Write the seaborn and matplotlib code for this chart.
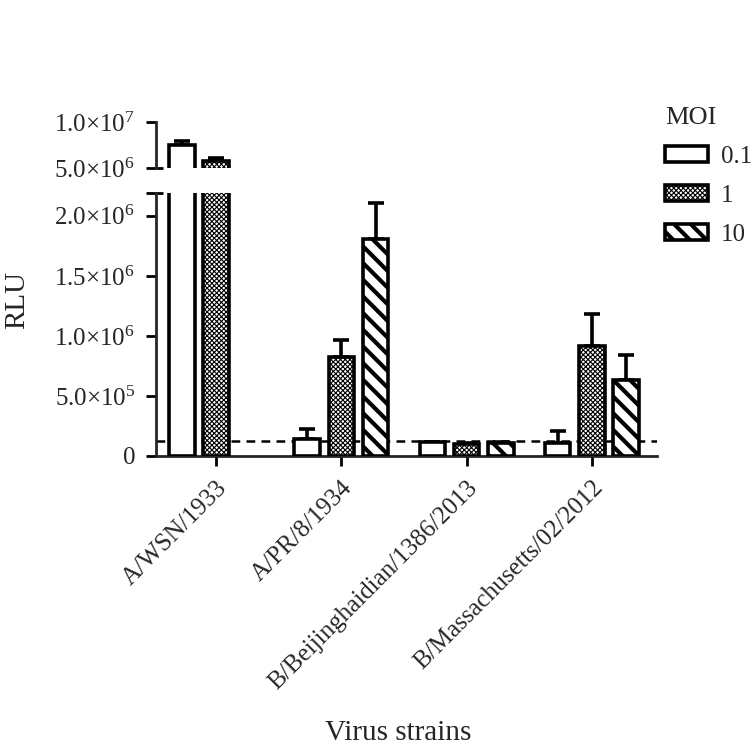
import numpy as np
import pandas as pd
import matplotlib
matplotlib.use("Agg")
import matplotlib.pyplot as plt
import seaborn as sns
from matplotlib.patches import Patch

# ---------------- data ----------------
strains = ["A/WSN/1933", "A/PR/8/1934", "B/Beijinghaidian/1386/2013", "B/Massachusetts/02/2012"]
moi_levels = ["0.1", "1", "10"]
rlu_moi_01 = [7.5e6, 1.4e5, 1.15e5, 1.1e5]
rlu_moi_1 = [5.75e6, 8.25e5, 1.0e5, 9.2e5]
rlu_moi_10 = [np.nan, 1.81e6, 1.05e5, 6.3e5]
err_moi_01 = [0.4e6, 0.85e5, 0.05e5, 1.0e5]
err_moi_1 = [0.35e6, 1.45e5, 0.1e5, 2.6e5]
err_moi_10 = [np.nan, 3.0e5, 0.1e5, 2.1e5]
threshold = 1.25e5
lower_ticks = [0, 5e5, 1e6, 1.5e6, 2e6]
lower_ticklabels = ["0", "5.0×10$^{5}$", "1.0×10$^{6}$", "1.5×10$^{6}$", "2.0×10$^{6}$"]
upper_ticks = [5e6, 1e7]
upper_ticklabels = ["5.0×10$^{6}$", "1.0×10$^{7}$"]

values = {"0.1": rlu_moi_01, "1": rlu_moi_1, "10": rlu_moi_10}
errors = {"0.1": err_moi_01, "1": err_moi_1, "10": err_moi_10}
rows = []
for m in moi_levels:
    for s, v, e in zip(strains, values[m], errors[m]):
        rows.append({"strain": s, "MOI": m, "RLU": v, "err": e})
df = pd.DataFrame(rows)
df_plot = df.dropna(subset=["RLU"])

# ---------------- style ----------------
sns.set_theme(style="ticks")
plt.rcParams["font.family"] = ["Liberation Serif", "DejaVu Serif"]
plt.rcParams["mathtext.fontset"] = "custom"
plt.rcParams["mathtext.rm"] = "Liberation Serif"
plt.rcParams["mathtext.default"] = "regular"
plt.rcParams["axes.linewidth"] = 2.0
plt.rcParams["hatch.color"] = "black"

hatches = {"0.1": "", "1": "xxxxxxx", "10": "\\\\"}
hatch_lw = {"0.1": 1.0, "1": 0.8, "10": 3.0}

W, H = 754, 745
fig = plt.figure(figsize=(W / 100, H / 100), dpi=100)
ax_lo = fig.add_axes([156 / W, 1 - 456 / H, 501 / W, 263 / H])
ax_hi = fig.add_axes([156 / W, 1 - 168 / H, 501 / W, 46 / H], sharex=ax_lo)

palette = {"0.1": "white", "1": "white", "10": "white"}

for ax in (ax_lo, ax_hi):
    sns.barplot(data=df_plot, x="strain", y="RLU", hue="MOI", order=strains,
                hue_order=moi_levels, palette=palette, errorbar=None, gap=0.25,
                width=0.82, edgecolor="black", linewidth=2.6, legend=False,
                ax=ax, zorder=3)
    for cont, m in zip(ax.containers, moi_levels):
        for bar in cont:
            bar.set_hatch(hatches[m])
            if hasattr(bar, "set_hatch_linewidth"):
                bar.set_hatch_linewidth(hatch_lw[m])
            xc = bar.get_x() + bar.get_width() / 2
            idx = int(round(xc))
            v = values[m][idx]
            e = errors[m][idx]
            if np.isfinite(v) and np.isfinite(e):
                ax.errorbar([xc], [v], yerr=[[0], [e]], fmt="none", ecolor="black",
                            elinewidth=2.6, capsize=6, capthick=2.6, zorder=2)
    ax.axhline(threshold, color="black", lw=1.8, ls=(0, (3.5, 2.5)), zorder=1)
    ax.set_xlim(-0.48, 3.52)
    ax.set_xlabel("")
    ax.set_ylabel("")

# lower axis
ax_lo.set_ylim(0, 2.19e6)
ax_lo.set_yticks(lower_ticks)
ax_lo.set_yticklabels(lower_ticklabels, fontsize=18)
ax_lo.set_xticks(range(len(strains)))
ax_lo.set_xticklabels(strains, rotation=45, ha="right", va="top",
                      rotation_mode="anchor", fontsize=18)
ax_lo.tick_params(axis="both", width=2.0, length=7, pad=8, color="black")
ax_lo.tick_params(axis="x", pad=8)
sns.despine(ax=ax_lo)
ax_lo.plot([-0.02, 0.014], [2.19e6, 2.19e6], transform=ax_lo.get_yaxis_transform(),
           color="black", lw=2.0, clip_on=False, solid_capstyle="butt")

# upper axis
ax_hi.set_ylim(5e6, 1e7)
ax_hi.set_yticks(upper_ticks)
ax_hi.set_yticklabels(upper_ticklabels, fontsize=18)
ax_hi.tick_params(axis="y", width=2.0, length=7, pad=8, color="black")
ax_hi.tick_params(axis="x", bottom=False, labelbottom=False)
sns.despine(ax=ax_hi, bottom=True)
ax_hi.plot([0, 0.014], [5e6, 5e6], transform=ax_hi.get_yaxis_transform(),
           color="black", lw=2.0, clip_on=False, solid_capstyle="butt")

fig.text(17 / W, 1 - 300 / H, "RLU", rotation=90, ha="center", va="center", fontsize=21)
fig.text(398 / W, 1 - 733 / H, "Virus strains", ha="center", va="center", fontsize=21)

# legend
handles = []
for m in moi_levels:
    p = Patch(facecolor="white", edgecolor="black", linewidth=2.6, hatch=hatches[m])
    handles.append(p)
leg = fig.legend(handles, moi_levels, title="MOI", loc="upper left",
                 bbox_to_anchor=(645 / W, 1 - 87 / H), frameon=False, fontsize=18,
                 title_fontsize=19, handlelength=1.7, handleheight=0.58,
                 handletextpad=0.55, labelspacing=0.68, alignment="left",
                 borderpad=0.3)
for h, m in zip(leg.legend_handles, moi_levels):
    if hasattr(h, "set_hatch_linewidth"):
        h.set_hatch_linewidth(hatch_lw[m])

fig.savefig("out.png", dpi=100)
